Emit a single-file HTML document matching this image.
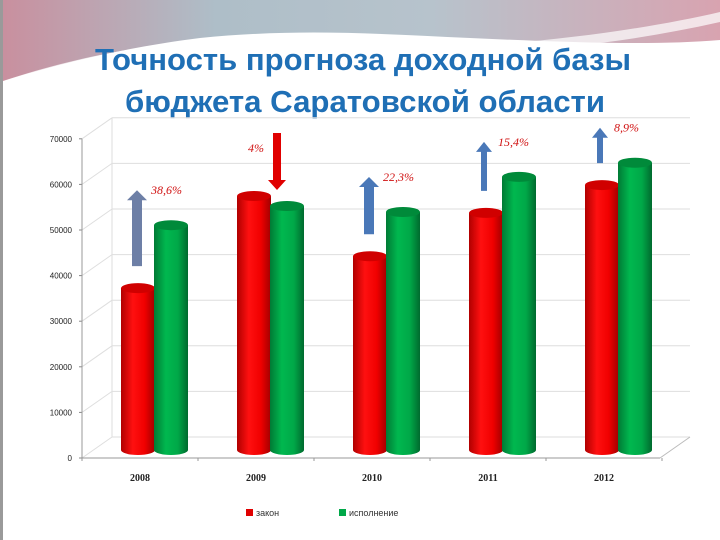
<!DOCTYPE html>
<html><head><meta charset="utf-8"><style>
body{margin:0;width:720px;height:540px;overflow:hidden;background:#fff;font-family:"Liberation Sans",sans-serif}
svg{display:block}
</style></head><body>
<svg id="c" width="720" height="540">
<defs>
<linearGradient id="wv" x1="0" x2="1"><stop offset="0" stop-color="#c98f9e"/><stop offset="0.3" stop-color="#aebec8"/><stop offset="0.6" stop-color="#b7c3cc"/><stop offset="1" stop-color="#d8a3b0"/></linearGradient>
<linearGradient id="rg" x1="0" x2="1"><stop offset="0" stop-color="#b00000"/><stop offset="0.35" stop-color="#ff1010"/><stop offset="0.7" stop-color="#f00000"/><stop offset="1" stop-color="#a00000"/></linearGradient>
<linearGradient id="gg" x1="0" x2="1"><stop offset="0" stop-color="#007a35"/><stop offset="0.35" stop-color="#00b84f"/><stop offset="0.7" stop-color="#00a848"/><stop offset="1" stop-color="#006a2e"/></linearGradient>
</defs>
<path d="M0,0 H720 V40 C650,46 560,42 470,38 C380,34 300,28 200,38 C120,48 50,66 0,82 Z" fill="url(#wv)"/>
<path d="M0,82 C60,62 140,42 230,40 C330,38 420,50 500,44 C580,38 660,26 720,12 V22 C640,40 560,50 480,52 C400,56 300,44 220,46 C130,50 60,70 0,90 Z" fill="#fff" opacity="0.7"/>
<rect x="0" y="0" width="3" height="540" fill="#9a9a9a"/>
<text x="363" y="70" text-anchor="middle" font-size="31" font-weight="bold" fill="#1f6fb5" textLength="536" lengthAdjust="spacingAndGlyphs">Точность прогноза доходной базы</text>
<text x="365" y="112" text-anchor="middle" font-size="31" font-weight="bold" fill="#1f6fb5" textLength="480" lengthAdjust="spacingAndGlyphs">бюджета Саратовской области</text>
<g id="plot"></g>
</svg>
<script>
const categories=["2008","2009","2010","2011","2012"];
const zakon=[35500,55700,42500,52000,58100];
const ispolnenie=[49300,53500,52200,59900,63000];
const yTicks=[0,10000,20000,30000,40000,50000,60000,70000];
const pctLabels=["38,6%","4%","22,3%","15,4%","8,9%"];
const NS="http://www.w3.org/2000/svg";
const g=document.getElementById('plot');
function el(t,a){const e=document.createElementNS(NS,t);for(const k in a)e.setAttribute(k,a[k]);g.appendChild(e);return e;}
const y0=458,ppu=45.6/10000,dx=30,dy=21;
const yF=v=>y0-v*ppu;
const barBase=450;
const yB=v=>barBase-v*ppu;
const xC=i=>139+i*116;
yTicks.forEach(v=>{
 let l=el('line',{x1:82+dx,x2:660+dx,y1:yF(v)-dy,y2:yF(v)-dy,stroke:'#dedede'});
 
 el('line',{x1:82,x2:82+dx,y1:yF(v),y2:yF(v)-dy,stroke:'#dedede'});
 let t=el('text',{x:72,y:yF(v)+3,'text-anchor':'end','font-size':8,fill:'#222'});
 t.textContent=v;
 el('line',{x1:79,x2:82,y1:yF(v),y2:yF(v),stroke:'#888'});
});
el('line',{x1:112,x2:112,y1:yF(70000)-dy,y2:y0-dy,stroke:'#dedede'});
let ya=el('line',{x1:82,x2:82,y1:yF(70000),y2:y0,stroke:'#999'});
let xa=el('line',{x1:82,x2:660,y1:y0,y2:y0,stroke:'#999'});
el('line',{x1:660,x2:690,y1:y0,y2:y0-dy,stroke:'#bbb'});
for(let i=0;i<=5;i++)el('line',{x1:82+i*116,x2:82+i*116,y1:y0,y2:y0+3,stroke:'#999'});
function cyl(cx,v,fill,top,name){
 const rx=17,ry=5,yt=yB(v);
 let b=el('path',{d:`M${cx-rx},${yt} V${barBase} A${rx},${ry} 0 0 0 ${cx+rx},${barBase} V${yt} Z`,fill:fill});
 
 el('ellipse',{cx:cx,cy:yt,rx:rx,ry:ry,fill:top});
}
categories.forEach((c,i)=>{
 const cx=xC(i);
 cyl(cx-1,zakon[i],'url(#rg)','#d00000','bar-zakon-'+c);
 cyl(cx+32,ispolnenie[i],'url(#gg)','#008a3a','bar-ispolnenie-'+c);
 let t=el('text',{x:cx+1,y:481,'text-anchor':'middle','font-size':10,'font-weight':'bold','font-family':'Liberation Serif',fill:'#222'});
 t.textContent=c;
 const down=ispolnenie[i]<zakon[i];
 const col=down?'#e00000':(i==0?'#6d7fa6':'#4a78b8');
 let a,lx,ly;
 if(down){const x=cx+22;const ys=133,ye=yB(ispolnenie[i])-16;
  a=el('path',{d:`M${x-4},${ys} H${x+4} V${ye-10} H${x+9} L${x},${ye} L${x-9},${ye-10} H${x-4} Z`,fill:col});
  lx=248;ly=152;}
 else{const ys=yB(zakon[i])-22,ye=yB(ispolnenie[i])-35;const x=cx-2+(i>=3?-1:0);const hw=i>=3?3:5;
  a=el('path',{d:`M${x-hw},${ys} H${x+hw} V${ye+10} H${x+hw+5} L${x},${ye} L${x-hw-5},${ye+10} H${x-hw} Z`,fill:col});
  lx=x+14;ly=ye+4;}
 
 let p=el('text',{x:lx,y:ly,'font-size':12,'font-style':'italic','font-family':'Liberation Serif',fill:'#d01010'});
 p.textContent=pctLabels[i];
});
let l1=el('rect',{x:246,y:509,width:7,height:7,fill:'#e00000'});
let t1=el('text',{x:256,y:516,'font-size':9,fill:'#333'});t1.textContent='закон';
let l2=el('rect',{x:339,y:509,width:7,height:7,fill:'#00a848'});
let t2=el('text',{x:349,y:516,'font-size':9,fill:'#333'});t2.textContent='исполнение';
</script>
</body></html>
